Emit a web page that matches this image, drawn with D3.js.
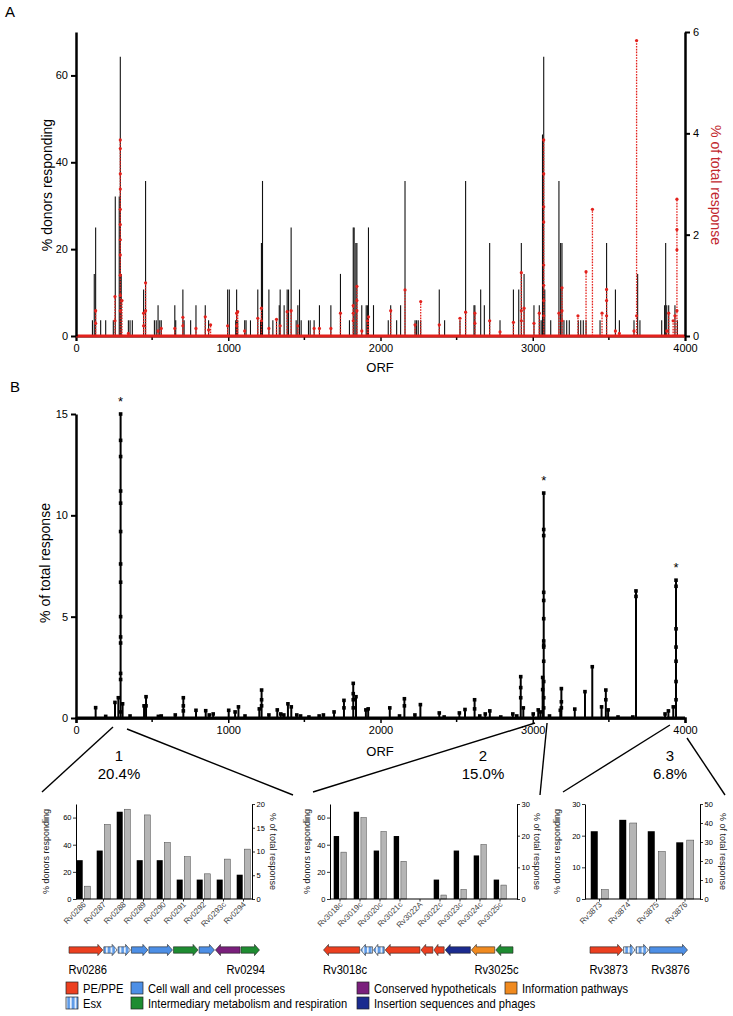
<!DOCTYPE html>
<html><head><meta charset="utf-8">
<script src="https://cdn.jsdelivr.net/npm/d3@7"></script>
<style>body{margin:0;background:#fff}svg{display:block}text{font-family:"Liberation Sans",Arial,sans-serif}</style>
</head><body><svg id="c" width="733" height="1016"></svg>
<script>
// ================= DATA =================
// Panel A: % donors responding per ORF (black bars)
const orfDonors = [108,120,129,162,195,245,258,284,291,297,344,355,370,444,457,515,527,539,550,560,649,655,702,710,753,788,849,871,996,1007,1049,1055,1062,1108,1117,1146,1194,1212,1218,1225,1267,1293,1317,1335,1341,1367,1387,1396,1413,1446,1457,1468,1479,1527,1538,1564,1599,1674,1737,1796,1821,1827,1838,1845,1877,1906,1914,1921,1954,2051,2067,2106,2132,2161,2227,2237,2248,2264,2386,2421,2522,2559,2614,2620,2658,2682,2717,2785,2873,2908,2925,2943,3008,3043,3055,3064,3072,3079,3118,3172,3183,3192,3205,3223,3240,3299,3315,3332,3350,3442,3485,3543,3569,3665,3689,3704,3847,3866,3873,3880,3893,3934,3950];
const pctDonors = [3.6,14.3,25,3.6,3.6,3.6,32.1,32.1,64.3,14.3,3.6,3.6,3.6,10.7,35.7,3.6,3.6,7.1,3.6,3.6,7.1,3.6,10.7,3.6,3.6,7.1,7.1,3.6,10.7,10.7,3.6,10.7,3.6,3.6,3.6,3.6,10.7,3.6,21.4,35.7,10.7,3.6,3.6,7.1,10.7,7.1,10.7,10.7,25,3.6,7.1,10.7,3.6,3.6,3.6,3.6,7.1,7.1,14.3,3.6,25,25,21.4,21.4,7.1,7.1,7.1,25,7.1,3.6,7.1,3.6,7.1,35.7,3.6,3.6,3.6,3.6,10.7,3.6,3.6,35.7,7.1,7.1,10.7,7.1,21.4,3.6,10.7,10.7,21.4,14.3,7.1,7.1,3.6,46.4,64.3,10.7,3.6,35.7,21.4,21.4,3.6,3.6,3.6,3.6,3.6,3.6,3.6,3.6,21.4,10.7,3.6,3.6,14.3,3.6,3.6,7.1,21.4,7.1,7.1,7.1,3.6];
// Panel A: % of total response per ORF (red)
const redOrf = [129,256,291,302,344,444,457,539,560,649,702,788,849,871,884,996,1055,1062,1108,1194,1218,1267,1317,1341,1387,1413,1457,1564,1599,1674,1737,1821,1845,1877,1914,1921,2067,2161,2227,2264,2386,2522,2559,2620,2717,2785,2873,2925,2943,3008,3043,3072,3172,3192,3297,3350,3392,3455,3485,3543,3569,3665,3682,3880,3893,3922,3934,3947];
const redVals = [[0.5,0.25],[0.78,0.3],[3.87,3.7,3.2,2.9,2.5,2.2,1.9,1.6,1.2,0.8,0.5],[0.7],[0.05],[0.45,0.2],[1.05,0.5],[0.1],[0.15],[0.15],[0.37,0.2],[0.15],[0.38],[0.12],[0.22],[0.2],[0.45,0.2],[0.48],[0.1],[0.35],[0.55,0.3],[0.15],[0.33],[0.2],[0.48],[0.5],[0.2],[0.15],[0.15],[0.15],[0.45],[0.6,0.45,0.3],[0.98,0.7,0.5],[0.1],[0.3],[0.38],[0.5],[0.91],[0.22],[0.68],[0.22],[0.35],[0.47],[0.45,0.25],[0.3],[0.08],[0.27],[1.25,0.5,0.3],[0.55],[0.25],[0.45],[3.87,3.2,2.55,2.25,1.4,1.0,0.7,0.4],[0.45],[0.95,0.5,0.3],[0.4],[1.27],[2.5],[0.45],[0.92,0.7,0.4],[0.1],[0.05],[0.1],[5.83,0.4],[0.1],[0.45],[0.3],[0.4],[2.7,2.1,1.7,0.5]];
// Panel B: % of total response per ORF
const orfB = [129,195,256,278,293,306,355,447,460,541,560,652,705,788,852,875,901,1003,1045,1067,1110,1204,1219,1267,1322,1345,1365,1392,1414,1450,1475,1530,1597,1625,1695,1760,1821,1839,1904,1919,2061,2125,2157,2226,2262,2386,2418,2518,2555,2618,2652,2688,2718,2790,2869,2895,2921,2938,3003,3036,3050,3065,3072,3110,3181,3188,3276,3343,3391,3452,3480,3495,3560,3657,3678,3869,3891,3923,3941];
const valsB = [[0.51],[0.08],[0.77],[1.0],[15,13.7,12.9,11.2,10.6,9.2,7.6,6.7,5.0,4.0,3.7,2.2,1.9,0.3],[0.7],[0.1],[0.6],[1.05,0.6],[0.08],[0.1],[0.15],[1.0,0.6,0.35],[0.38],[0.36],[0.15],[0.2],[0.38],[0.3],[0.55],[0.1],[0.45],[1.38,0.9,0.6],[0.15],[0.4],[0.2],[0.15],[0.7],[0.55],[0.15],[0.1],[0.05],[0.1],[0.15],[0.3],[0.87,0.5],[1.71,1.2,0.9,0.5],[1.05],[0.4],[0.45],[0.5],[0.1],[0.95,0.6],[0.15],[0.66],[0.25],[0.05],[0.25],[0.42],[0.9,0.45],[0.1],[0.2],[0.35],[0.05],[0.2],[0.1],[2.04,1.5,1.0],[0.5],[0.2],[0.4],[0.3],[2.0,1.4],[11.1,9.3,9.0,6.2,5.8,4.9,3.8,3.6,3.5,2.8,1.8,1.0,0.5],[0.1],[0.38],[1.45,0.8,0.5],[0.44],[1.3],[2.53],[0.55],[1.38,0.9],[0.4],[0.05],[0.05],[6.27,6.0],[0.2],[0.35],[0.55],[6.8,6.5,4.4,3.5,2.8,1.8,0.9]];
const orfTicks = [0,1000,2000,3000,4000];
const orfMinor = [500,1500,2500,3500];
// Regions
const regionNum = ["1","2","3"];
const regionPct = ["20.4%","15.0%","6.8%"];
const regionOrf = [[243,335],[3015,3094],[3901,4013]];
const starOrf = [293,3072,3941];
// Sub charts
const names1 = ["Rv0286","Rv0287","Rv0288","Rv0289","Rv0290","Rv0291","Rv0292","Rv0293c","Rv0294"];
const donors1 = [28.6,35.7,64.3,28.6,28.6,14.3,14.3,14.3,17.9];
const resp1 = [2.7,15.7,18.9,17.7,11.9,8.9,5.3,8.4,10.5];
const names2 = ["Rv3018c","Rv3019c","Rv3020c","Rv3021c","Rv3022A","Rv3022c","Rv3023c","Rv3024c","Rv3025c"];
const donors2 = [46.4,64.3,35.7,46.4,0,14.3,35.7,32.1,14.3];
const resp2 = [14.8,25.7,21.3,11.9,0,1.25,3.0,17.2,4.4];
const names3 = ["Rv3873","Rv3874","Rv3875","Rv3876"];
const donors3 = [21.4,25,21.4,17.9];
const resp3 = [5,40,25,31];
// Gene maps (relative lengths, functional category, strand)
const geneLen1 = [34,14,13,17,24,25,16,25,19];
const geneCat1 = ["pe","esx","esx","cw","cw","im","cw","ch","im"];
const geneDir1 = [1,1,1,1,1,1,1,-1,1];
const geneLen2 = [36,12.5,11.3,34.6,12.5,11,25.4,23.6,17.7];
const geneCat2 = ["pe","esx","esx","pe","pe","pe","is","info","im"];
const geneDir2 = [-1,-1,-1,-1,-1,-1,-1,-1,-1];
const geneLen3 = [32.3,12,13,37.4];
const geneCat3 = ["pe","esx","esx","cw"];
const geneDir3 = [1,1,1,1];
const geneEnds = [["Rv0286","Rv0294"],["Rv3018c","Rv3025c"],["Rv3873","Rv3876"]];
const legendKeys = ["pe","cw","ch","info","esx","im","is"];
const legendLabels = ["PE/PPE","Cell wall and cell processes","Conserved hypotheticals","Information pathways","Esx","Intermediary metabolism and respiration","Insertion sequences and phages"];

// ================= DRAW =================
const svg = d3.select("#c");
const RED = "#e3211c", RED_T = "#c1272d";
const catColor = {pe:"#ec3f1f", cw:"#4d8fe6", ch:"#7a1f7c", info:"#f08a1f", esx:"url(#esx)", im:"#1e8c31", is:"#1b2b8f"};

const defs = svg.append("defs");
const pat = defs.append("pattern").attr("id","esx").attr("patternUnits","userSpaceOnUse").attr("width",4.5).attr("height",10);
pat.append("rect").attr("width",4.5).attr("height",10).attr("fill","#5e9be8");
pat.append("rect").attr("x",2.6).attr("width",1.5).attr("height",10).attr("fill","#ffffff");

function styleAxis(g, w, tw, fs){
  g.select(".domain").attr("stroke","#000").attr("stroke-width",w);
  g.selectAll(".tick line").attr("stroke","#000").attr("stroke-width",tw);
  g.selectAll(".tick text").attr("font-size",fs).attr("fill","#000").attr("font-family",'"Liberation Sans",Arial,sans-serif');
}
// condensed text helper (narrow look)
function ctext(sel, x, y, str, size, anchor){
  return sel.append("text").attr("transform",`translate(${x},${y}) scale(0.86,1)`)
    .attr("font-size",size).attr("text-anchor",anchor||"start").text(str);
}

// ---------- Panel A ----------
const xA = d3.scaleLinear().domain([0,4000]).range([76,685]);
const yAL = d3.scaleLinear().domain([0,70]).range([336,32]);
const yAR = d3.scaleLinear().domain([0,6]).range([336,32]);

svg.append("text").attr("x",5).attr("y",17).attr("font-size",15).text("A");

const gxA = svg.append("g").attr("transform","translate(0,336)")
  .call(d3.axisBottom(xA).tickValues(orfTicks).tickSize(5).tickPadding(3).tickFormat(d3.format("d")));
styleAxis(gxA,2,1.5,11);
svg.append("g").selectAll("line").data(orfMinor).join("line")
  .attr("x1",d=>xA(d)).attr("x2",d=>xA(d)).attr("y1",336).attr("y2",340).attr("stroke","#000").attr("stroke-width",1.5);

// black bars
svg.append("g").selectAll("line").data(orfDonors.map((o,i)=>[o,pctDonors[i]])).join("line")
  .attr("x1",d=>xA(d[0])).attr("x2",d=>xA(d[0])).attr("y1",yAL(0)).attr("y2",d=>yAL(d[1]))
  .attr("stroke","#111").attr("stroke-width",1.1);

// red series
const redG = svg.append("g");
redG.append("path").attr("d",d3.line()([[xA(0),yAR(0)],[xA(4000),yAR(0)]]))
  .attr("stroke",RED).attr("stroke-width",3).attr("fill","none");
const redSp = redOrf.map((o,i)=>({o, v:redVals[i]}));
redG.selectAll("line.stem").data(redSp).join("line").attr("class","stem")
  .attr("x1",d=>xA(d.o)).attr("x2",d=>xA(d.o)).attr("y1",yAR(0)).attr("y2",d=>yAR(d3.max(d.v)))
  .attr("stroke",RED).attr("stroke-width",1.3).attr("stroke-dasharray","1.6,1.2");
redG.selectAll("circle").data(redSp.flatMap(d=>d.v.map(v=>[d.o,v]))).join("circle")
  .attr("cx",d=>xA(d[0])).attr("cy",d=>yAR(d[1])).attr("r",1.6).attr("fill",RED);

const gyAL = svg.append("g").attr("transform","translate(76,0)")
  .call(d3.axisLeft(yAL).tickValues([0,20,40,60]).tickSize(5).tickSizeOuter(0).tickPadding(3).tickFormat(d3.format("d")));
styleAxis(gyAL,2.5,2,11);
const gyAR = svg.append("g").attr("transform","translate(685,0)")
  .call(d3.axisRight(yAR).tickValues([0,2,4,6]).tickSize(5).tickSizeOuter(0).tickPadding(3).tickFormat(d3.format("d")));
styleAxis(gyAR,2.5,2,11);

svg.append("text").attr("x",380).attr("y",372).attr("text-anchor","middle").attr("font-size",13).text("ORF");
svg.append("text").attr("transform","translate(52,185) rotate(-90)").attr("text-anchor","middle").attr("font-size",14).text("% donors responding");
svg.append("text").attr("transform","translate(711,185) rotate(90)").attr("text-anchor","middle").attr("font-size",14).attr("fill",RED_T).text("% of total response");

// ---------- Panel B ----------
const xB = d3.scaleLinear().domain([0,4000]).range([76,685]);
const yB = d3.scaleLinear().domain([0,15]).range([718,414]);
svg.append("text").attr("x",10).attr("y",392).attr("font-size",15).text("B");

const gxB = svg.append("g").attr("transform","translate(0,718)")
  .call(d3.axisBottom(xB).tickValues(orfTicks).tickSize(5).tickPadding(3).tickFormat(d3.format("d")));
styleAxis(gxB,2.5,1.5,11);
svg.append("g").selectAll("line").data(orfMinor).join("line")
  .attr("x1",d=>xB(d)).attr("x2",d=>xB(d)).attr("y1",718).attr("y2",722).attr("stroke","#000").attr("stroke-width",1.5);

const bSp = orfB.map((o,i)=>({o, v:valsB[i]}));
const bG = svg.append("g");
bG.append("path").attr("d",d3.line()([[xB(0),yB(0)],[xB(4000),yB(0)]])).attr("stroke","#000").attr("stroke-width",3).attr("fill","none");
bG.selectAll("line").data(bSp).join("line")
  .attr("x1",d=>xB(d.o)).attr("x2",d=>xB(d.o)).attr("y1",yB(0)).attr("y2",d=>yB(d3.max(d.v)))
  .attr("stroke","#000").attr("stroke-width",2);
bG.selectAll("rect").data(bSp.flatMap(d=>d.v.map(v=>[d.o,v]))).join("rect")
  .attr("x",d=>xB(d[0])-1.8).attr("y",d=>yB(d[1])-1.8).attr("width",3.6).attr("height",3.6).attr("fill","#000");

const gyB = svg.append("g").attr("transform","translate(76,0)")
  .call(d3.axisLeft(yB).tickValues([0,5,10,15]).tickSize(5).tickSizeOuter(0).tickPadding(3).tickFormat(d3.format("d")));
styleAxis(gyB,2.5,2,11);

svg.append("g").selectAll("text").data(starOrf).join("text")
  .attr("x",d=>xB(d)).attr("y",d=>yB(d3.max(bSp.find(s=>s.o===d).v))-8)
  .attr("text-anchor","middle").attr("font-size",13).text("*");

svg.append("text").attr("x",380).attr("y",756).attr("text-anchor","middle").attr("font-size",13).text("ORF");
svg.append("text").attr("transform","translate(50,563) rotate(-90)").attr("text-anchor","middle").attr("font-size",14).text("% of total response");

// ---------- Sub charts ----------
const subs = [
 {names:names1, donors:donors1, resp:resp1, L:76, R:252, band:[73.5,253.5], lMax:70, lT:[0,20,40,60], rMax:20, rT:[0,5,10,15,20], bw:6, gap:1.6, tL:46, tR:273, boxL:42, boxR:293, labX:119, cy:[727,729],
  gLen:geneLen1, gCat:geneCat1, gDir:geneDir1, gR:[68.5,260], ends:geneEnds[0]},
 {names:names2, donors:donors2, resp:resp2, L:330, R:517, band:[330,510], lMax:70, lT:[0,20,40,60], rMax:30, rT:[0,10,20,30], bw:5.4, gap:1.8, tL:307, tR:537, boxL:313, boxR:540, labX:483, cy:[723,723],
  gLen:geneLen2, gCat:geneCat2, gDir:geneDir2, gR:[323,513.5], ends:geneEnds[1]},
 {names:names3, donors:donors3, resp:resp3, L:585, R:700, band:[585.25,699.25], lMax:30, lT:[0,10,20,30], rMax:50, rT:[0,10,20,30,40,50], bw:7, gap:3.5, tL:557, tR:723, boxL:563, boxR:725, labX:670, cy:[725,738],
  gLen:geneLen3, gCat:geneCat3, gDir:geneDir3, gR:[589.5,688], ends:geneEnds[2]}
];
const Y0=899, YT=804;

subs.forEach((s,k)=>{
  // callout
  svg.append("line").attr("x1",xB(regionOrf[k][0])).attr("y1",s.cy[0]).attr("x2",s.boxL).attr("y2",792).attr("stroke","#000").attr("stroke-width",1.4);
  svg.append("line").attr("x1",xB(regionOrf[k][1])).attr("y1",s.cy[1]).attr("x2",s.boxR).attr("y2",795).attr("stroke","#000").attr("stroke-width",1.4);
  svg.append("text").attr("x",s.labX).attr("y",761).attr("text-anchor","middle").attr("font-size",15).text(regionNum[k]);
  svg.append("text").attr("x",s.labX).attr("y",779).attr("text-anchor","middle").attr("font-size",15).text(regionPct[k]);

  const x = d3.scaleBand().domain(s.names).range(s.band);
  const yl = d3.scaleLinear().domain([0,s.lMax]).range([Y0,YT]);
  const yr = d3.scaleLinear().domain([0,s.rMax]).range([Y0,YT]);
  const g = svg.append("g");
  const cx = n=>x(n)+x.bandwidth()/2;
  g.selectAll("rect.b").data(s.names).join("rect").attr("class","b")
    .attr("x",(n)=>cx(n)-s.gap/2-s.bw).attr("width",s.bw)
    .attr("y",(n,i)=>yl(s.donors[i])).attr("height",(n,i)=>Y0-yl(s.donors[i]))
    .attr("fill","#000");
  g.selectAll("rect.g").data(s.names).join("rect").attr("class","g")
    .attr("x",(n)=>cx(n)+s.gap/2).attr("width",s.bw)
    .attr("y",(n,i)=>yr(s.resp[i])).attr("height",(n,i)=>Y0-yr(s.resp[i]))
    .attr("fill",(n,i)=>s.resp[i]>0?"#b5b5b5":"none").attr("stroke",(n,i)=>s.resp[i]>0?"#444":"none").attr("stroke-width",0.5);
  // x axis
  g.append("line").attr("x1",s.L).attr("x2",s.R).attr("y1",Y0).attr("y2",Y0).attr("stroke","#000").attr("stroke-width",1);
  g.selectAll("line.t").data(s.names).join("line").attr("class","t")
    .attr("x1",cx).attr("x2",cx).attr("y1",Y0).attr("y2",Y0+2.5).attr("stroke","#000").attr("stroke-width",0.8);
  g.selectAll("text.c").data(s.names).join("text").attr("class","c")
    .attr("transform",n=>`translate(${cx(n)+3},${Y0+6}) rotate(-45)`)
    .attr("text-anchor","end").attr("font-size",8).attr("fill","#444").text(n=>n);
  const al = g.append("g").attr("transform",`translate(${s.L},0)`).call(d3.axisLeft(yl).tickValues(s.lT).tickSize(3).tickSizeOuter(0).tickPadding(1.5).tickFormat(d3.format("d")));
  styleAxis(al,1,0.8,7.5);
  const ar = g.append("g").attr("transform",`translate(${s.R},0)`).call(d3.axisRight(yr).tickValues(s.rT).tickSize(3).tickSizeOuter(0).tickPadding(1.5).tickFormat(d3.format("d")));
  styleAxis(ar,1,0.8,7.5);
  g.append("text").attr("transform",`translate(${s.tL+3},${(Y0+YT)/2}) rotate(-90)`).attr("text-anchor","middle").attr("font-size",9).attr("fill","#222").text("% donors responding");
  g.append("text").attr("transform",`translate(${s.tR-3},${(Y0+YT)/2}) rotate(90)`).attr("text-anchor","middle").attr("font-size",9).attr("fill","#222").text("% of total response");

  // gene map
  const cum = [0]; s.gLen.forEach(l=>cum.push(cum[cum.length-1]+l));
  const gx = d3.scaleLinear().domain([0,cum[cum.length-1]]).range(s.gR);
  const yc = 950, bh=3.2, hh=5.6;
  const genes = s.gLen.map((l,i)=>({a:gx(cum[i])+0.5, b:gx(cum[i+1])-0.5, d:s.gDir[i], c:s.gCat[i]}));
  g.selectAll("path.gene").data(genes).join("path").attr("class","gene")
    .attr("d",d=>{
      const hl=Math.min(5,(d.b-d.a)*0.4);
      let pts;
      if(d.d>0) pts=[[d.a,yc-bh],[d.b-hl,yc-bh],[d.b-hl,yc-hh],[d.b,yc],[d.b-hl,yc+hh],[d.b-hl,yc+bh],[d.a,yc+bh]];
      else pts=[[d.b,yc-bh],[d.a+hl,yc-bh],[d.a+hl,yc-hh],[d.a,yc],[d.a+hl,yc+hh],[d.a+hl,yc+bh],[d.b,yc+bh]];
      return d3.line()(pts)+"Z";
    })
    .attr("fill",d=>catColor[d.c]).attr("stroke","#222").attr("stroke-width",0.6);
  ctext(g, s.gR[0], 974, s.ends[0], 13, "start");
  if(k===2) ctext(g, (gx(cum[3])+gx(cum[4]))/2+2, 974, s.ends[1], 13, "middle");
  else ctext(g, s.gR[1]+5, 974, s.ends[1], 13, "end");
});

// ---------- Legend ----------
const legX = [66,131,357,505,66,131,357];
const legY = [988,988,988,988,1003,1003,1003];
const lg = svg.append("g");
legendKeys.forEach((key,i)=>{
  lg.append("rect").attr("x",legX[i]).attr("y",legY[i]-6).attr("width",12).attr("height",12)
    .attr("fill",catColor[key]).attr("stroke","#222").attr("stroke-width",0.7);
  ctext(lg, legX[i]+17, legY[i]+4.5, legendLabels[i], 13, "start");
});
</script></body></html>
